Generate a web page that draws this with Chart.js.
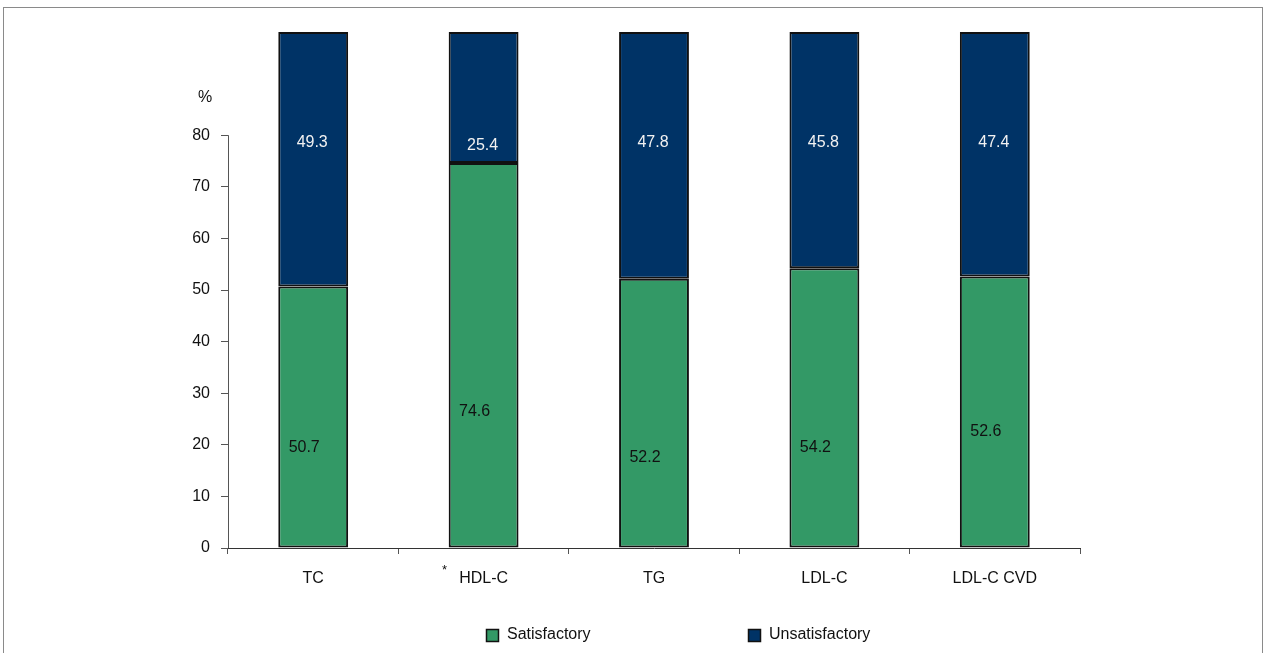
<!DOCTYPE html>
<html>
<head>
<meta charset="utf-8">
<script src="https://cdn.jsdelivr.net/npm/chart.js@4/dist/chart.umd.min.js"></script>
<style>
  html, body { margin: 0; padding: 0; background: #fff; overflow: hidden; }
  #wrap { position: relative; width: 1264px; height: 653px; }
  #frame { position: absolute; left: 3px; top: 7px; width: 1258px; height: 660px; border: 1px solid #8a8a8a; }
  #c { position: absolute; left: 0; top: 0; }
</style>
</head>
<body>
<div id="wrap">
  <div id="frame"></div>
  <canvas id="c" width="1264" height="653"></canvas>
</div>
<script>
// ── Data ─────────────────────────────────────────
const categories = ['TC', 'HDL-C', 'TG', 'LDL-C', 'LDL-C CVD'];
const satisfactory = [50.7, 74.6, 52.2, 54.2, 52.6];
const unsatisfactory = [49.3, 25.4, 47.8, 45.8, 47.4];
const seriesNames = ['Satisfactory', 'Unsatisfactory'];
const yTicksShown = [0, 10, 20, 30, 40, 50, 60, 70, 80];

// where the value labels sit, in % units
const satLabelAt = [19.5, 26.5, 17.5, 19.5, 22.5];
const unsLabelAt = [78.5, 78, 78.5, 78.5, 78.5];

const GREEN = '#339966';
const NAVY = '#003366';
const FONT = '"Liberation Sans", Arial, sans-serif';
const FS = 16;

const yMaxShown = Math.max(...yTicksShown);

// ── Extras: axis line, value labels, legend, % and asterisk ──
const extrasPlugin = {
  id: 'extras',
  afterDraw(chart) {
    const { ctx, chartArea, scales } = chart;
    const x = scales.x, y = scales.y;
    ctx.save();

    // y axis line only up to the last shown tick
    ctx.strokeStyle = '#555';
    ctx.lineWidth = 1;
    ctx.beginPath();
    ctx.moveTo(chartArea.left + 0.5, y.getPixelForValue(0));
    ctx.lineTo(chartArea.left + 0.5, y.getPixelForValue(yMaxShown));
    ctx.stroke();

    // value labels
    ctx.font = FS + 'px ' + FONT;
    ctx.textAlign = 'center';
    ctx.textBaseline = 'middle';
    categories.forEach((_, i) => {
      const cx = x.getPixelForValue(i);
      ctx.fillStyle = '#111';
      ctx.fillText(satisfactory[i].toFixed(1), cx - 9, y.getPixelForValue(satLabelAt[i]));
      ctx.fillStyle = '#f2f2f2';
      ctx.fillText(unsatisfactory[i].toFixed(1), cx - 1, y.getPixelForValue(unsLabelAt[i]));
    });

    // % unit label
    ctx.fillStyle = '#111';
    ctx.fillText('%', chartArea.left - 23, y.getPixelForValue(yMaxShown) - 38);

    // asterisk in front of HDL-C
    ctx.font = '13px ' + FONT;
    ctx.fillText('*', x.getPixelForValue(1) - 39, chartArea.bottom + 22);

    // legend
    const legendY = 635;
    const items = [
      { text: seriesNames[0], color: GREEN, x: 486 },
      { text: seriesNames[1], color: NAVY, x: 748 },
    ];
    ctx.font = FS + 'px ' + FONT;
    ctx.textAlign = 'left';
    items.forEach((it) => {
      ctx.fillStyle = it.color;
      ctx.fillRect(it.x, legendY - 6, 13, 13);
      ctx.strokeStyle = '#111';
      ctx.lineWidth = 1.5;
      ctx.strokeRect(it.x + 0.5, legendY - 5.5, 12, 12);
      ctx.fillStyle = '#111';
      ctx.fillText(it.text, it.x + 21, legendY);
    });

    ctx.restore();
  },
};

new Chart(document.getElementById('c').getContext('2d'), {
  type: 'bar',
  data: {
    labels: categories,
    datasets: [
      {
        label: seriesNames[0],
        data: satisfactory,
        backgroundColor: GREEN,
        borderColor: '#111',
        borderWidth: 2,
        borderSkipped: false,
        categoryPercentage: 1,
        barPercentage: 0.41,
      },
      {
        label: seriesNames[1],
        data: unsatisfactory,
        backgroundColor: NAVY,
        borderColor: '#111',
        borderWidth: 2,
        borderSkipped: false,
        categoryPercentage: 1,
        barPercentage: 0.41,
      },
    ],
  },
  options: {
    responsive: false,
    animation: false,
    devicePixelRatio: 1,
    layout: { padding: { left: 150, right: 184, top: 32, bottom: 65 } },
    plugins: {
      legend: { display: false },
      tooltip: { enabled: false },
    },
    scales: {
      x: {
        stacked: true,
        afterFit: (s) => { s.height = 40; },
        grid: {
          offset: true,
          drawOnChartArea: false,
          drawTicks: true,
          tickLength: 6,
          color: '#555',
        },
        border: { display: true, color: '#333', width: 1 },
        ticks: { color: '#111', padding: 15, font: { family: FONT, size: FS } },
      },
      y: {
        stacked: true,
        min: 0,
        max: 100,
        afterFit: (s) => { s.width = 78; },
        grid: {
          drawOnChartArea: false,
          drawTicks: true,
          tickLength: 7,
          color: (c) => (c.tick && c.tick.value <= yMaxShown ? '#555' : 'rgba(0,0,0,0)'),
        },
        border: { display: false },
        ticks: {
          stepSize: 10,
          padding: 11,
          color: '#111',
          font: { family: FONT, size: FS },
          callback: (v) => (yTicksShown.includes(v) ? v : ''),
        },
      },
    },
  },
  plugins: [extrasPlugin],
});
</script>
</body>
</html>
